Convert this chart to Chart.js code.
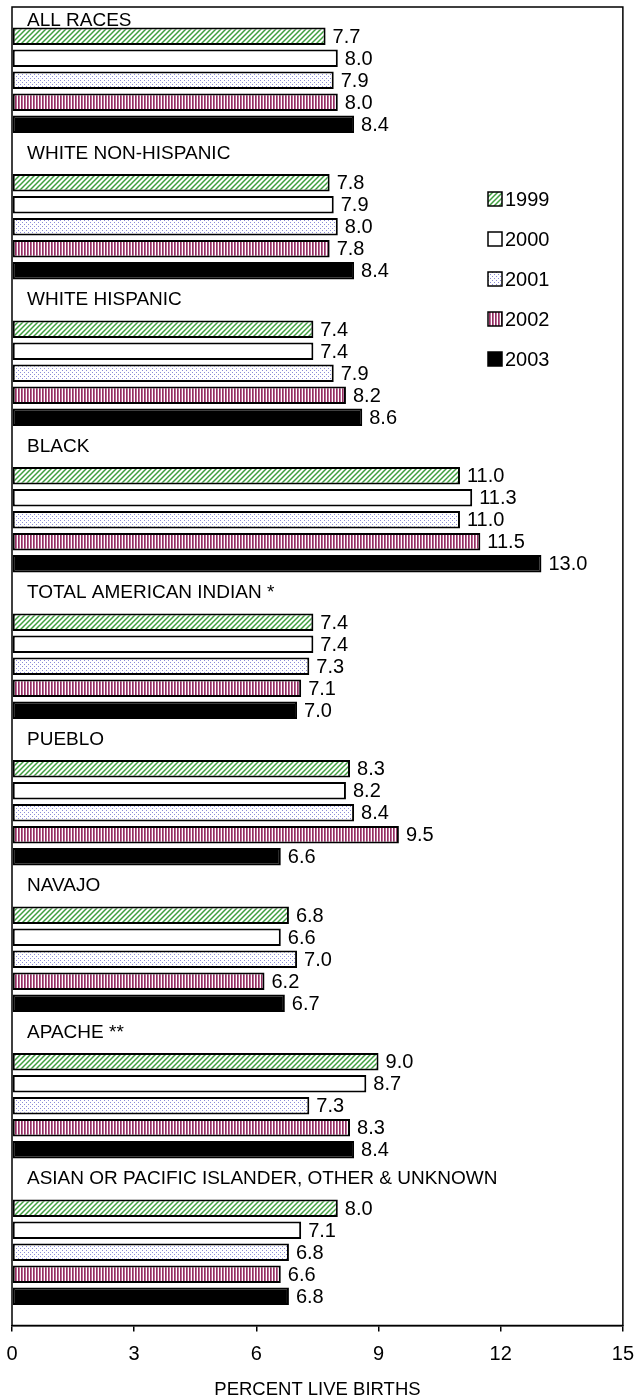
<!DOCTYPE html>
<html>
<head>
<meta charset="utf-8">
<script src="https://cdn.jsdelivr.net/npm/chart.js@4"></script>
<style>
  html, body { margin: 0; padding: 0; background: #fff; }
  #wrap { width: 634px; height: 1399px; }
</style>
</head>
<body>
<div id="wrap"><canvas id="lbwChart" width="634" height="1399"></canvas></div>
<script>
// Low birth weight by race, percent of live births
const categories = [
    'ALL RACES',
    'WHITE NON-HISPANIC',
    'WHITE HISPANIC',
    'BLACK',
    'TOTAL AMERICAN INDIAN *',
    'PUEBLO',
    'NAVAJO',
    'APACHE **',
    'ASIAN OR PACIFIC ISLANDER, OTHER & UNKNOWN'
];
const years = ['1999', '2000', '2001', '2002', '2003'];
const values1999 = [7.7, 7.8, 7.4, 11.0, 7.4, 8.3, 6.8, 9.0, 8.0];
const values2000 = [8.0, 7.9, 7.4, 11.3, 7.4, 8.2, 6.6, 8.7, 7.1];
const values2001 = [7.9, 8.0, 7.9, 11.0, 7.3, 8.4, 7.0, 7.3, 6.8];
const values2002 = [8.0, 7.8, 8.2, 11.5, 7.1, 9.5, 6.2, 8.3, 6.6];
const values2003 = [8.4, 8.4, 8.6, 13.0, 7.0, 6.6, 6.7, 8.4, 6.8];
const xTicks = [0, 3, 6, 9, 12, 15];

const FONT = "'Liberation Sans', Arial, sans-serif";

// fill patterns like the old excel chart
function makePattern(kind) {
    const c = document.createElement('canvas');
    const g = c.getContext('2d');
    if (kind === 'hatch') {
        c.width = 5; c.height = 5;
        g.fillStyle = '#fff';
        g.fillRect(0, 0, 5, 5);
        g.strokeStyle = '#3f9f3f';
        g.lineWidth = 1.5;
        g.beginPath();
        g.moveTo(-1, 6); g.lineTo(6, -1);
        g.moveTo(-1, 1); g.lineTo(1, -1);
        g.moveTo(4, 6); g.lineTo(6, 4);
        g.stroke();
    } else if (kind === 'dots') {
        c.width = 4; c.height = 4;
        g.fillStyle = '#fff';
        g.fillRect(0, 0, 4, 4);
        g.fillStyle = '#8c8cd8';
        g.fillRect(0, 0, 1, 1);
        g.fillRect(2, 2, 1, 1);
    } else if (kind === 'stripes') {
        c.width = 3; c.height = 1;
        g.fillStyle = '#fff';
        g.fillRect(0, 0, 3, 1);
        g.fillStyle = '#93305f';
        g.fillRect(0, 0, 1, 1);
        g.fillStyle = '#b86a98';
        g.fillRect(1, 0, 1, 1);
    }
    return g.createPattern(c, 'repeat');
}

const fills = [makePattern('hatch'), '#ffffff', makePattern('dots'), makePattern('stripes'), '#000000'];
const series = [values1999, values2000, values2001, values2002, values2003];

// value labels, group titles, legend and frame
const annotatePlugin = {
    id: 'annotate',
    afterDatasetsDraw(chart) {
        const ctx = chart.ctx;
        const area = chart.chartArea;
        const yScale = chart.scales.y;
        ctx.save();
        ctx.fillStyle = '#000';
        ctx.textBaseline = 'middle';

        // numbers at the end of bars
        ctx.font = '20px ' + FONT;
        ctx.textAlign = 'left';
        chart.data.datasets.forEach((ds, di) => {
            const meta = chart.getDatasetMeta(di);
            meta.data.forEach((bar, i) => {
                ctx.fillText(ds.data[i].toFixed(1), bar.x + 7, bar.y + 1);
            });
        });

        // group names on the band boundaries
        const step = yScale.getPixelForValue(1) - yScale.getPixelForValue(0);
        ctx.font = '19px ' + FONT;
        categories.forEach((name, i) => {
            const top = yScale.getPixelForValue(i) - step / 2;
            const y = Math.max(top, area.top + 14);
            ctx.fillText(name, 27, y);
        });

        // legend
        ctx.font = '20px ' + FONT;
        years.forEach((yr, i) => {
            const cy = 199 + i * 40;
            ctx.fillStyle = fills[i];
            ctx.fillRect(488, cy - 7, 14, 14);
            ctx.strokeStyle = '#000';
            ctx.lineWidth = 1.5;
            ctx.strokeRect(488, cy - 7, 14, 14);
            ctx.fillStyle = '#000';
            ctx.fillText(yr, 505, cy + 1);
        });

        // plot frame
        ctx.strokeStyle = '#000';
        ctx.lineWidth = 1.5;
        ctx.strokeRect(area.left, area.top, area.right - area.left, area.bottom - area.top);
        ctx.restore();
    }
};

Chart.defaults.font.family = FONT;
Chart.defaults.color = '#000';

new Chart(document.getElementById('lbwChart').getContext('2d'), {
    type: 'bar',
    data: {
        labels: categories,
        datasets: years.map((yr, i) => ({
            label: yr,
            data: series[i],
            backgroundColor: fills[i],
            borderColor: '#000',
            borderWidth: 2,
            borderSkipped: false,
            categoryPercentage: 0.75,
            barPercentage: 0.8
        }))
    },
    options: {
        indexAxis: 'y',
        responsive: false,
        animation: false,
        layout: {
            padding: { left: 12, right: 11, top: 7, bottom: 0 }
        },
        plugins: {
            legend: { display: false },
            tooltip: { enabled: false }
        },
        scales: {
            y: {
                type: 'category',
                display: false,
                offset: true
            },
            x: {
                type: 'linear',
                min: 0,
                max: 15,
                afterBuildTicks: (scale) => {
                    scale.ticks = xTicks.map(v => ({ value: v }));
                },
                ticks: {
                    font: { size: 20, lineHeight: '46px' },
                    padding: 0,
                    color: '#000'
                },
                grid: {
                    drawOnChartArea: false,
                    drawTicks: true,
                    tickLength: 6,
                    color: '#000',
                    lineWidth: 1.5
                },
                border: { display: true, color: '#000', width: 1.5 },
                title: {
                    display: true,
                    text: 'PERCENT LIVE BIRTHS',
                    font: { size: 18.5, lineHeight: 1 },
                    padding: { top: 3, bottom: 0 }
                }
            }
        }
    },
    plugins: [annotatePlugin]
});
</script>
</body>
</html>
